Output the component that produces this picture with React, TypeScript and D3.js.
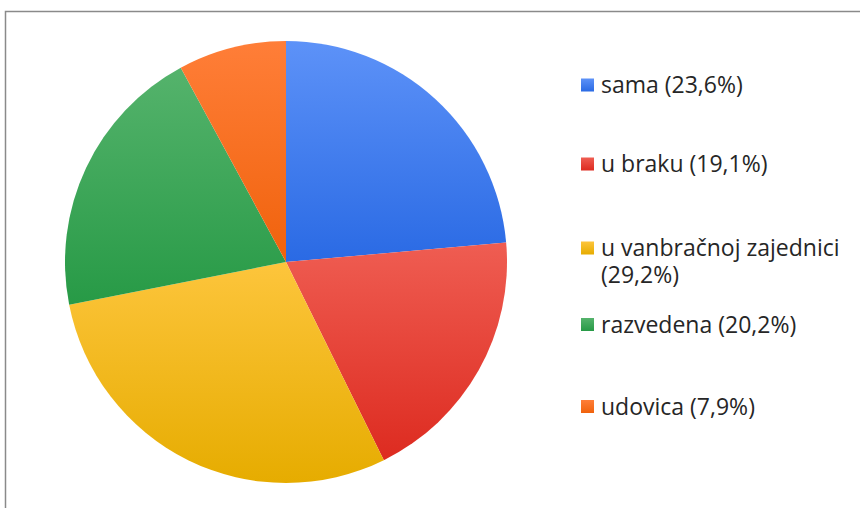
import * as d3 from "d3";
import React from "react";

const labels = ["sama", "u braku", "u vanbračnoj zajednici", "razvedena", "udovica"];
const values = [23.6, 19.1, 29.2, 20.2, 7.9];
const topColors = ["#5d92f8", "#ef5d52", "#fdc53c", "#55b36c", "#ff7e38"];
const bottomColors = ["#2a6ae4", "#dd2b20", "#e6ac00", "#279a46", "#f0620c"];
// legend text lines (the yellow one wraps)
const legendLines = [
  ["sama (23,6%)"],
  ["u braku (19,1%)"],
  ["u vanbračnoj zajednici", "(29,2%)"],
  ["razvedena (20,2%)"],
  ["udovica (7,9%)"],
];
const legendCenters = [85, 164, 248, 324.5, 406.5];

const W = 860;
const H = 508;
const cx = 286;
const cy = 262;
const r = 221;

export default function App() {
  const pie = d3.pie<number>().sort(null).value((d) => d);
  const arc = d3.arc<d3.PieArcDatum<number>>().innerRadius(0).outerRadius(r);
  const arcs = pie(values);

  return (
    <svg
      width={W}
      height={H}
      style={{ position: "absolute", left: 0, top: 0, fontFamily: "'Open Sans', Lato, sans-serif" }}
    >
      <defs>
        {labels.map((l, i) => (
          <linearGradient key={i} id={"g" + i} x1="0" y1="0" x2="0" y2="1">
            <stop offset="0%" stopColor={topColors[i]} />
            <stop offset="100%" stopColor={bottomColors[i]} />
          </linearGradient>
        ))}
      </defs>
      <rect x={0} y={0} width={W} height={H} fill="#fff" />
      <path d={`M5.5,${H} V11.5 H${W}`} fill="none" stroke="#8a8a8a" strokeWidth={1.5} />
      <g transform={`translate(${cx},${cy})`}>
        {arcs.map((a, i) => (
          <path key={i} d={arc(a) || ""} fill={`url(#g${i})`} />
        ))}
      </g>
      <g>
        {legendLines.map((lines, i) => (
          <g key={i} transform={`translate(581,${legendCenters[i]})`}>
            <rect x={0} y={-6.5} width={13} height={13} fill={`url(#g${i})`} />
            {lines.map((t, j) => (
              <text key={j} x={20} y={8 + j * 27} fontSize={23} fill="#262626">
                {t}
              </text>
            ))}
          </g>
        ))}
      </g>
    </svg>
  );
}
